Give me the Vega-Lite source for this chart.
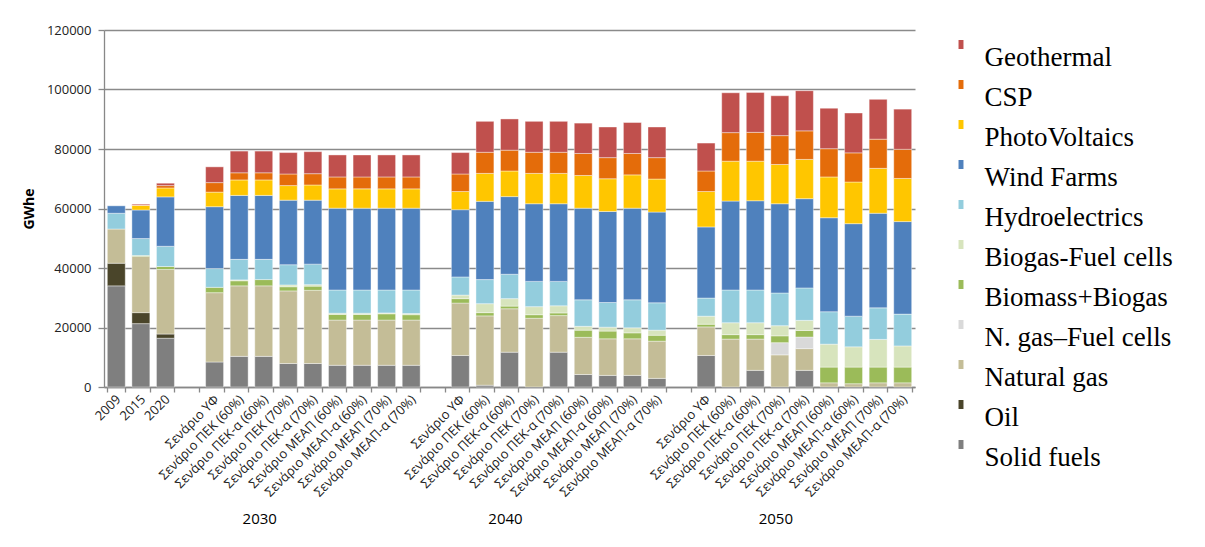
{
 "$schema": "https://vega.github.io/schema/vega-lite/v6.json",
 "width": 811,
 "height": 357,
 "autosize": {"type": "none"},
 "padding": {"left": 104, "top": 30, "right": 290, "bottom": 160},
 "background": "white",
 "config": {"view": {"stroke": null}, "font": "Open Sans"},
 "layer": [
  {
   "data": {"values": [
    {"k": "h|2009", "S": 34000, "O": 7600, "NG": 11500, "H": 5300, "W": 2500},
    {"k": "h|2015", "S": 21300, "O": 3700, "NG": 18900, "BM": 300, "H": 5700, "W": 9600, "PV": 1500, "CSP": 200, "G": 300},
    {"k": "h|2020", "S": 16400, "O": 1400, "NG": 21700, "BM": 1000, "H": 6800, "W": 16600, "PV": 3000, "CSP": 800, "G": 800},
    {"k": "2030|Σενάριο ΥΦ", "S": 8400, "NG": 23300, "BM": 1800, "H": 6300, "W": 20800, "PV": 4900, "CSP": 3200, "G": 5300},
    {"k": "2030|Σενάριο ΠΕΚ (60%)", "S": 10300, "NG": 23700, "BM": 1700, "BGFC": 300, "H": 6900, "W": 21500, "PV": 5200, "CSP": 2400, "G": 7300},
    {"k": "2030|Σενάριο ΠΕΚ-α (60%)", "S": 10300, "NG": 23700, "BM": 2100, "H": 6800, "W": 21500, "PV": 5200, "CSP": 2400, "G": 7300},
    {"k": "2030|Σενάριο ΠΕΚ (70%)", "S": 7900, "NG": 24400, "BM": 1400, "BGFC": 600, "H": 6800, "W": 21700, "PV": 4900, "CSP": 3900, "G": 7200},
    {"k": "2030|Σενάριο ΠΕΚ-α (70%)", "S": 7900, "NG": 24600, "BM": 1400, "BGFC": 500, "H": 6900, "W": 21500, "PV": 5100, "CSP": 3800, "G": 7400},
    {"k": "2030|Σενάριο ΜΕΑΠ (60%)", "S": 7300, "NG": 15200, "BM": 1900, "BGFC": 400, "H": 7800, "W": 27500, "PV": 6500, "CSP": 4000, "G": 7400},
    {"k": "2030|Σενάριο ΜΕΑΠ-α (60%)", "S": 7300, "NG": 15200, "BM": 1900, "BGFC": 400, "H": 7800, "W": 27500, "PV": 6500, "CSP": 4000, "G": 7400},
    {"k": "2030|Σενάριο ΜΕΑΠ (70%)", "S": 7300, "NG": 15200, "BM": 2100, "BGFC": 300, "H": 7700, "W": 27500, "PV": 6500, "CSP": 4000, "G": 7400},
    {"k": "2030|Σενάριο ΜΕΑΠ-α (70%)", "S": 7300, "NG": 15200, "BM": 1800, "BGFC": 400, "H": 7900, "W": 27500, "PV": 6500, "CSP": 4000, "G": 7400},
    {"k": "2040|Σενάριο ΥΦ", "S": 10600, "NG": 17600, "BM": 1500, "BGFC": 1200, "H": 6100, "W": 22600, "PV": 6100, "CSP": 5900, "G": 7200},
    {"k": "2040|Σενάριο ΠΕΚ (60%)", "S": 600, "NG": 23300, "BM": 1100, "BGFC": 3000, "H": 8100, "W": 26300, "PV": 9400, "CSP": 7100, "G": 10400},
    {"k": "2040|Σενάριο ΠΕΚ-α (60%)", "S": 11700, "NG": 14600, "BM": 900, "BGFC": 2500, "H": 8200, "W": 26100, "PV": 8600, "CSP": 7000, "G": 10500},
    {"k": "2040|Σενάριο ΠΕΚ (70%)", "NG": 23100, "BM": 1200, "BGFC": 2700, "H": 8500, "W": 26100, "PV": 10200, "CSP": 7100, "G": 10400},
    {"k": "2040|Σενάριο ΠΕΚ-α (70%)", "S": 11700, "NG": 12300, "BM": 900, "BGFC": 2400, "H": 8200, "W": 26100, "PV": 10200, "CSP": 7100, "G": 10400},
    {"k": "2040|Σενάριο ΜΕΑΠ (60%)", "S": 4200, "NG": 12500, "BM": 2400, "BGFC": 1300, "H": 8900, "W": 30800, "PV": 11000, "CSP": 7400, "G": 10200},
    {"k": "2040|Σενάριο ΜΕΑΠ-α (60%)", "S": 3900, "NG": 12300, "BM": 2600, "BGFC": 1300, "H": 8300, "W": 30600, "PV": 11000, "CSP": 7100, "G": 10300},
    {"k": "2040|Σενάριο ΜΕΑΠ (70%)", "S": 3900, "NG": 12300, "BM": 2000, "BGFC": 1700, "H": 9400, "W": 30800, "PV": 11200, "CSP": 7200, "G": 10400},
    {"k": "2040|Σενάριο ΜΕΑΠ-α (70%)", "S": 2900, "NG": 12500, "BM": 2000, "BGFC": 1700, "H": 9200, "W": 30500, "PV": 11100, "CSP": 7200, "G": 10300},
    {"k": "2050|Σενάριο ΥΦ", "S": 10600, "NG": 9600, "BM": 900, "BGFC": 2700, "H": 6100, "W": 23900, "PV": 11900, "CSP": 6900, "G": 9400},
    {"k": "2050|Σενάριο ΠΕΚ (60%)", "NG": 16100, "BM": 1500, "BGFC": 4000, "H": 11000, "W": 29900, "PV": 13400, "CSP": 9600, "G": 13400},
    {"k": "2050|Σενάριο ΠΕΚ-α (60%)", "S": 5600, "NG": 10500, "BM": 1500, "BGFC": 4000, "H": 11000, "W": 30000, "PV": 13300, "CSP": 9700, "G": 13400},
    {"k": "2050|Σενάριο ΠΕΚ (70%)", "NG": 10800, "NGFC": 4100, "BM": 2300, "BGFC": 3400, "H": 11000, "W": 30000, "PV": 13200, "CSP": 9700, "G": 13400},
    {"k": "2050|Σενάριο ΠΕΚ-α (70%)", "S": 5600, "NG": 7300, "NGFC": 3900, "BM": 2200, "BGFC": 3400, "H": 10900, "W": 30000, "PV": 13200, "CSP": 9600, "G": 13500},
    {"k": "2050|Σενάριο ΜΕΑΠ (60%)", "NG": 1400, "BM": 5300, "BGFC": 7700, "H": 10900, "W": 31600, "PV": 13700, "CSP": 9500, "G": 13600},
    {"k": "2050|Σενάριο ΜΕΑΠ-α (60%)", "NG": 1100, "BM": 5600, "BGFC": 6800, "H": 10300, "W": 31100, "PV": 14000, "CSP": 9800, "G": 13400},
    {"k": "2050|Σενάριο ΜΕΑΠ (70%)", "NG": 1400, "BM": 5300, "BGFC": 9300, "H": 10600, "W": 31800, "PV": 15100, "CSP": 9800, "G": 13400},
    {"k": "2050|Σενάριο ΜΕΑΠ-α (70%)", "NG": 1400, "BM": 5300, "BGFC": 7100, "H": 10700, "W": 31100, "PV": 14500, "CSP": 9800, "G": 13500}
   ]},
   "transform": [
    {"fold": ["S", "O", "NG", "NGFC", "BM", "BGFC", "H", "W", "PV", "CSP", "G"], "as": ["code", "v"]},
    {"filter": "isValid(datum.v) && datum.v > 0"},
    {"lookup": "code", "from": {"data": {"values": [
      {"code": "S", "name": "Solid fuels", "ord": 1},
      {"code": "O", "name": "Oil", "ord": 2},
      {"code": "NG", "name": "Natural gas", "ord": 3},
      {"code": "NGFC", "name": "N. gas–Fuel cells", "ord": 4},
      {"code": "BM", "name": "Biomass+Biogas", "ord": 5},
      {"code": "BGFC", "name": "Biogas-Fuel cells", "ord": 6},
      {"code": "H", "name": "Hydroelectrics", "ord": 7},
      {"code": "W", "name": "Wind Farms", "ord": 8},
      {"code": "PV", "name": "PhotoVoltaics", "ord": 9},
      {"code": "CSP", "name": "CSP", "ord": 10},
      {"code": "G", "name": "Geothermal", "ord": 11}
     ]}, "key": "code", "fields": ["name", "ord"]}}
   ],
   "mark": {"type": "bar", "stroke": "white", "strokeWidth": 0.4},
   "encoding": {
    "x": {
     "field": "k", "type": "nominal",
     "scale": {"domain": ["h|2009", "h|2015", "h|2020", "g1|",
       "2030|Σενάριο ΥΦ", "2030|Σενάριο ΠΕΚ (60%)", "2030|Σενάριο ΠΕΚ-α (60%)", "2030|Σενάριο ΠΕΚ (70%)", "2030|Σενάριο ΠΕΚ-α (70%)", "2030|Σενάριο ΜΕΑΠ (60%)", "2030|Σενάριο ΜΕΑΠ-α (60%)", "2030|Σενάριο ΜΕΑΠ (70%)", "2030|Σενάριο ΜΕΑΠ-α (70%)", "g2|",
       "2040|Σενάριο ΥΦ", "2040|Σενάριο ΠΕΚ (60%)", "2040|Σενάριο ΠΕΚ-α (60%)", "2040|Σενάριο ΠΕΚ (70%)", "2040|Σενάριο ΠΕΚ-α (70%)", "2040|Σενάριο ΜΕΑΠ (60%)", "2040|Σενάριο ΜΕΑΠ-α (60%)", "2040|Σενάριο ΜΕΑΠ (70%)", "2040|Σενάριο ΜΕΑΠ-α (70%)", "g3|",
       "2050|Σενάριο ΥΦ", "2050|Σενάριο ΠΕΚ (60%)", "2050|Σενάριο ΠΕΚ-α (60%)", "2050|Σενάριο ΠΕΚ (70%)", "2050|Σενάριο ΠΕΚ-α (70%)", "2050|Σενάριο ΜΕΑΠ (60%)", "2050|Σενάριο ΜΕΑΠ-α (60%)", "2050|Σενάριο ΜΕΑΠ (70%)", "2050|Σενάριο ΜΕΑΠ-α (70%)"],
      "paddingInner": 0.27, "paddingOuter": 0.135},
     "axis": {"title": null, "labelExpr": "split(datum.value, '|')[1]", "labelAngle": -45, "labelAlign": "right", "labelBaseline": "middle", "labelFont": "Open Sans", "labelFontSize": 13, "labelColor": "#1a1a1a", "labelPadding": 5, "labelOffset": 2, "tickBand": "extent", "tickSize": 5, "tickColor": "#888888", "tickWidth": 1.3, "domainColor": "#888888", "domainWidth": 1.3, "labelOverlap": false, "labelLimit": 300, "grid": false}
    },
    "y": {
     "field": "v", "type": "quantitative", "stack": "zero",
     "scale": {"domain": [0, 120000], "nice": false},
     "axis": {"title": "GWhe", "titleFont": "Open Sans", "titleFontWeight": "bold", "titleFontSize": 14, "titleColor": "black", "titlePadding": 10, "values": [0, 20000, 40000, 60000, 80000, 100000, 120000], "format": "d", "labelFont": "Open Sans", "labelFontSize": 13, "labelColor": "#222222", "labelPadding": 7, "tickSize": 6, "tickColor": "#888888", "tickWidth": 1.3, "domainColor": "#888888", "domainWidth": 1.3, "grid": true, "gridColor": "#8a8a8a", "gridWidth": 1.3}
    },
    "color": {
     "field": "name", "type": "nominal",
     "scale": {
      "domain": ["Geothermal", "CSP", "PhotoVoltaics", "Wind Farms", "Hydroelectrics", "Biogas-Fuel cells", "Biomass+Biogas", "N. gas–Fuel cells", "Natural gas", "Oil", "Solid fuels"],
      "range": ["#C0504D", "#E46C0A", "#FFC600", "#4F81BD", "#93CDDD", "#D7E4BD", "#9BBB59", "#D9D9D9", "#C4BD97", "#4A452A", "#7F7F7F"]
     },
     "legend": {"orient": "none", "legendX": 843.5, "legendY": 1, "title": null, "symbolType": "M-0.55,-1H0.55V1H-0.55Z", "symbolSize": 81, "symbolStrokeWidth": 0, "labelFont": "Liberation Serif", "labelFontSize": 27, "labelColor": "black", "labelOffset": 10, "labelBaseline": "top", "rowPadding": 0, "padding": 0, "labelLimit": 300}
    },
    "order": {"field": "ord", "type": "quantitative", "sort": "ascending"}
   }
  },
  {
   "data": {"values": [{"k": "2030|Σενάριο ΠΕΚ-α (60%)"}, {"k": "2040|Σενάριο ΠΕΚ-α (60%)"}, {"k": "2050|Σενάριο ΠΕΚ (70%)"}]},
   "mark": {"type": "text", "text": ""},
   "encoding": {
    "x": {
     "field": "k", "type": "nominal",
     "axis": {"orient": "bottom", "title": null, "values": ["2030|Σενάριο ΠΕΚ-α (60%)", "2040|Σενάριο ΠΕΚ-α (60%)", "2050|Σενάριο ΠΕΚ (70%)"], "labelExpr": "split(datum.value, '|')[0]", "labelAngle": 0, "labelAlign": "center", "labelBaseline": "middle", "labelFont": "Open Sans", "labelFontSize": 15, "labelColor": "black", "ticks": false, "tickSize": 0, "domain": false, "grid": false, "offset": 127, "labelPadding": 4, "labelOffset": -4}
    }
   }
  }
 ],
 "resolve": {"axis": {"x": "independent"}}
}
